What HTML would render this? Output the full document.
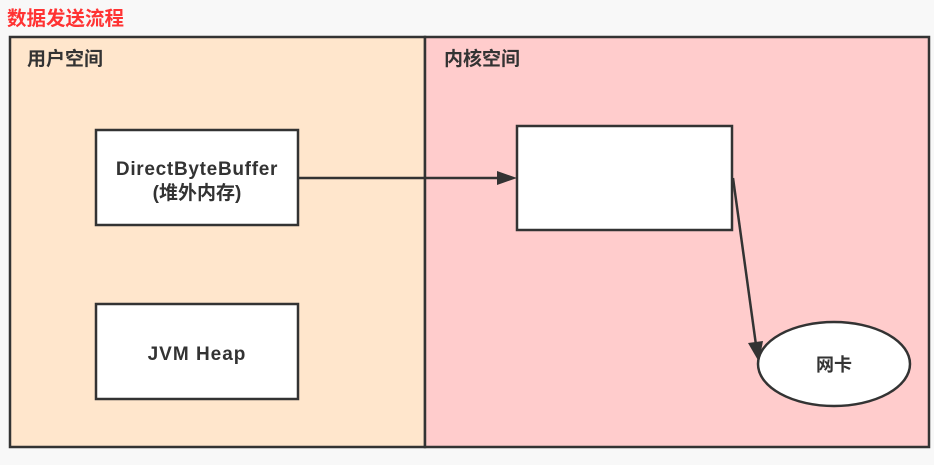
<!DOCTYPE html>
<html><head><meta charset="utf-8"><style>
body{margin:0;background:#f8f8f8;}
svg text{font-family:"Liberation Sans","Noto Sans CJK SC",sans-serif;font-weight:bold;}
</style></head><body>
<svg width="934" height="460" viewBox="0 0 934 460" xmlns="http://www.w3.org/2000/svg">
<rect width="934" height="460" fill="#f8f8f8"/>
<text x="7" y="25" font-size="19.5" fill="#ff3333">数据发送流程</text>
<rect x="10" y="37" width="415" height="410" fill="#ffe6cc" stroke="#333" stroke-width="2.5"/>
<rect x="425" y="37" width="504" height="410" fill="#ffcccc" stroke="#333" stroke-width="2.5"/>
<text x="27" y="65" font-size="19" fill="#333">用户空间</text>
<text x="444" y="65" font-size="19" fill="#333">内核空间</text>
<rect x="96" y="130" width="202" height="95" fill="#fff" stroke="#333" stroke-width="2.5"/>
<text x="197" y="175" font-size="19" letter-spacing="0.7" fill="#333" text-anchor="middle">DirectByteBuffer</text>
<text x="197" y="199" font-size="19" fill="#333" text-anchor="middle">(堆外内存)</text>
<rect x="96" y="304" width="202" height="95" fill="#fff" stroke="#333" stroke-width="2.5"/>
<text x="197" y="360" font-size="19" letter-spacing="1" fill="#333" text-anchor="middle">JVM Heap</text>
<rect x="517" y="126" width="215" height="104" fill="#fff" stroke="#333" stroke-width="2.5"/>
<ellipse cx="834" cy="364" rx="76" ry="42" fill="#fff" stroke="#333" stroke-width="2.5"/>
<text x="834" y="371" font-size="18" fill="#333" text-anchor="middle">网卡</text>
<line x1="299" y1="178" x2="500" y2="178" stroke="#333" stroke-width="2.5"/>
<polygon points="517,178 497,171 497,185" fill="#333"/>
<line x1="733" y1="178" x2="756" y2="345" stroke="#333" stroke-width="2.5"/>
<polygon points="759,362 748,343 763,341" fill="#333"/>
</svg>
</body></html>
